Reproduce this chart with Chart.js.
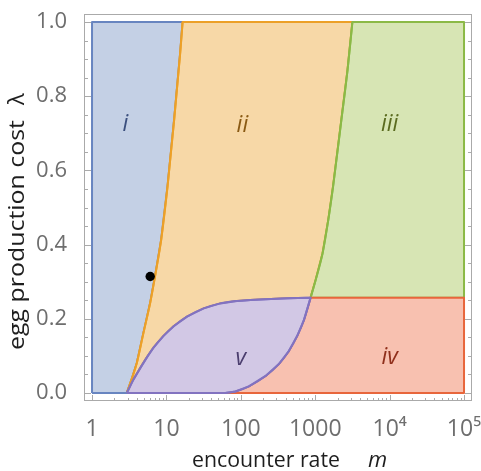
<!DOCTYPE html>
<html>
<head>
<meta charset="utf-8">
<script src="https://cdn.jsdelivr.net/npm/chart.js@4.4.1/dist/chart.umd.min.js"></script>
<style>
html, body { margin: 0; padding: 0; background: #fff; }
#wrap { width: 481px; height: 471px; }
</style>
</head>
<body>
<div id="wrap"><canvas id="phaseChart"></canvas></div>
<script>
// boundary i | ii : encounter rate m at each lambda
const edgeLambda = [0, 0.04, 0.081, 0.162, 0.243, 0.323, 0.413, 0.557, 0.737, 0.916, 1.0];
const edgeM      = [2.93, 3.45, 4.0, 4.91, 6.05, 7.15, 8.5, 10.35, 12.7, 15.3, 16.5];

// boundary ii | iii
const edge3Lambda = [0.257, 0.305, 0.377, 0.468, 0.557, 0.737, 0.871, 1.0];
const edge3M      = [867, 1015, 1257, 1502, 1738, 2248, 2720, 3160];

// upper edge of region v
const vTopM      = [2.93, 3.6, 4.44, 5.46, 6.7, 9.14, 12.5, 18.9, 31.7, 53, 89, 135, 215, 360, 580, 867];
const vTopLambda = [0, 0.036, 0.067, 0.096, 0.122, 0.154, 0.18, 0.206, 0.228, 0.2415, 0.248, 0.2507, 0.253, 0.2547, 0.2563, 0.257];

// lower edge of region v
const vLowM      = [62, 84.6, 128, 215, 324, 442, 573, 704, 867];
const vLowLambda = [0, 0.004, 0.018, 0.046, 0.078, 0.113, 0.154, 0.1965, 0.257];

const plateau = 0.257;
const mMin = 1, mMax = 1e5;
const lamMin = 0, lamMax = 1;

const xTicks = [1, 10, 100, 1000, 1e4, 1e5];
const xTickLabels = ['1', '10', '100', '1000', '10⁴', '10⁵'];
const yTicks = [0, 0.2, 0.4, 0.6, 0.8, 1.0];

const regionNames  = ['i', 'ii', 'iii', 'iv', 'v'];
const regionLabelM = [2.8, 105, 1e4, 1e4, 100];
const regionLabelL = [0.723, 0.72, 0.723, 0.095, 0.093];
const regionInk    = ['#3b4f7e', '#8a5a14', '#5a6b1f', '#902f1b', '#4b3e6e'];

const dotM = [6.05];
const dotLambda = [0.314];

const pts = (ms, ls) => ms.map((m, i) => ({ x: m, y: ls[i] }));
const rev = a => a.slice().reverse();

const edgeI = pts(edgeM, edgeLambda);
const edgeIII = pts(edge3M, edge3Lambda);
const vTop = pts(vTopM, vTopLambda);
const vLow = pts(vLowM, vLowLambda);

const regionI = [{ x: mMin, y: lamMin }, { x: mMin, y: lamMax }, ...rev(edgeI), { x: mMin, y: lamMin }];
const regionII = [...edgeI, ...rev(edgeIII), ...rev(vTop)];
const regionIII = [...edgeIII, { x: mMax, y: lamMax }, { x: mMax, y: plateau }, edgeIII[0]];
const regionIV = [{ x: mMax, y: plateau }, { x: mMax, y: lamMin }, ...vLow, { x: mMax, y: plateau }];
const regionV = [...vTop, ...rev(vLow), vTop[0]];

const colors = {
    blue:   ['rgb(196, 208, 229)', 'rgb(104, 133, 192)'],
    orange: ['rgb(247, 216, 167)', 'rgb(236, 160, 40)'],
    green:  ['rgb(215, 229, 180)', 'rgb(139, 185, 70)'],
    red:    ['rgb(248, 193, 176)', 'rgb(232, 102, 60)'],
    purple: ['rgb(210, 200, 229)', 'rgb(130, 115, 192)']
};

function region(data, c, order) {
    return {
        type: 'line',
        data: data,
        backgroundColor: c[0],
        borderColor: c[1],
        borderWidth: 2,
        borderJoinStyle: 'round',
        fill: 'shape',
        tension: 0,
        pointRadius: 0,
        order: order
    };
}

// smooth boundary curve drawn over the region fills
function curve(data, c, order) {
    return {
        type: 'line',
        data: data,
        borderColor: c[1],
        borderWidth: 2,
        fill: false,
        cubicInterpolationMode: 'monotone',
        pointRadius: 0,
        order: order
    };
}

const tickFont = '"Open Sans", "DejaVu Sans", sans-serif';

// text squeezed or stretched along its baseline to a given length
function fitText(ctx, text, x, y, len) {
    const w = ctx.measureText(text).width;
    ctx.save();
    ctx.translate(x, y);
    ctx.scale(len / w, 1);
    ctx.fillText(text, 0, 0);
    ctx.restore();
}

// frame, inward ticks, axis titles and region names
const decorPlugin = {
    id: 'decor',
    afterDraw(chart) {
        const { ctx, chartArea: a, scales: { x, y } } = chart;
        ctx.save();
        ctx.strokeStyle = '#aaaaaa';
        ctx.lineWidth = 1;
        ctx.strokeRect(a.left + 0.5, a.top + 0.5, a.width - 1, a.height - 1);

        ctx.beginPath();
        for (let k = 0; k <= 20; k++) {
            const py = Math.round(y.getPixelForValue(k * 0.05)) + 0.5;
            const len = k % 4 === 0 ? 7 : 4;
            ctx.moveTo(a.left, py); ctx.lineTo(a.left + len, py);
            ctx.moveTo(a.right, py); ctx.lineTo(a.right - len, py);
        }
        for (let d = 0; d <= 5; d++) {
            for (let j = 1; j <= 9; j++) {
                const v = j * Math.pow(10, d);
                if (v > mMax) break;
                const px = Math.round(x.getPixelForValue(v)) + 0.5;
                const len = j === 1 ? 6 : 3;
                ctx.moveTo(px, a.bottom); ctx.lineTo(px, a.bottom - len);
            }
        }
        ctx.stroke();

        // region names
        ctx.textAlign = 'center';
        ctx.textBaseline = 'middle';
        ctx.font = 'italic 23px ' + tickFont;
        regionNames.forEach((name, i) => {
            ctx.fillStyle = regionInk[i];
            ctx.fillText(name, x.getPixelForValue(regionLabelM[i]), y.getPixelForValue(regionLabelL[i]));
        });

        // x title: "encounter rate" then an italic m
        ctx.fillStyle = '#1e1e1e';
        ctx.textAlign = 'left';
        ctx.textBaseline = 'alphabetic';
        ctx.font = '22px ' + tickFont;
        fitText(ctx, 'encounter rate', 192, 467, 148);
        ctx.font = 'italic 22px ' + tickFont;
        ctx.fillText('m', 368, 467);

        // y title, rotated
        ctx.translate(24, 350);
        ctx.rotate(-Math.PI / 2);
        ctx.font = '22px ' + tickFont;
        fitText(ctx, 'egg production cost', 0, 0, 230);
        ctx.fillText('λ', 245, 0);
        ctx.restore();
    }
};

new Chart(document.getElementById('phaseChart'), {
    type: 'line',
    data: {
        datasets: [
            {
                type: 'line',
                data: pts(dotM, dotLambda),
                showLine: false,
                pointRadius: 4.7,
                pointBackgroundColor: '#000',
                pointBorderWidth: 0,
                order: -2
            },
            curve(vTop, colors.purple, -1),
            curve(vLow, colors.purple, -1),
            curve(edgeI, colors.orange, 3),
            curve(edgeIII, colors.green, 2),
            region(regionV, colors.purple, 0),
            region(regionIV, colors.red, 1),
            region(regionIII, colors.green, 2),
            region(regionII, colors.orange, 3),
            region(regionI, colors.blue, 4)
        ]
    },
    options: {
        responsive: true,
        maintainAspectRatio: false,
        animation: false,
        layout: { padding: { left: 0, right: 9, top: 14, bottom: 0 } },
        plugins: {
            legend: { display: false },
            tooltip: { enabled: false }
        },
        scales: {
            x: {
                type: 'logarithmic',
                min: 0.78,
                max: 1.28e5,
                grid: { display: false },
                border: { display: false },
                afterBuildTicks: scale => { scale.ticks = xTicks.map(v => ({ value: v })); },
                afterFit: scale => {
                    scale.height = 70;
                    scale.paddingLeft = 0;
                    scale.paddingRight = 0;
                },
                ticks: {
                    autoSkip: false,
                    maxRotation: 0,
                    padding: 7,
                    color: '#6e6e6e',
                    font: { family: tickFont, size: 23 },
                    callback: (v, i) => xTickLabels[i]
                }
            },
            y: {
                type: 'linear',
                min: -0.0216,
                max: 1.0216,
                grid: { display: false },
                border: { display: false },
                afterBuildTicks: scale => { scale.ticks = yTicks.map(v => ({ value: v })); },
                afterFit: scale => {
                    scale.width = 84;
                    scale.paddingTop = 0;
                    scale.paddingBottom = 0;
                },
                ticks: {
                    padding: 9,
                    color: '#6e6e6e',
                    font: { family: tickFont, size: 22 },
                    callback: v => v.toFixed(1)
                }
            }
        }
    },
    plugins: [decorPlugin]
});
</script>
</body>
</html>
